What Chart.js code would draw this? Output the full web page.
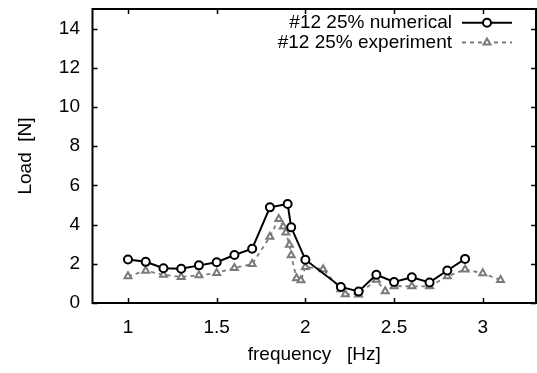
<!DOCTYPE html>
<html>
<head>
<meta charset="utf-8">
<script src="https://cdn.jsdelivr.net/npm/chart.js@4"></script>
<style>
  html, body { margin: 0; padding: 0; background: #fff; }
  #c { display: block; }
</style>
</head>
<body>
<canvas id="c" width="537" height="373"></canvas>
<script>
// data
const seriesNames = ['#12 25% numerical', '#12 25% experiment'];

const numFreq = [1.0, 1.1, 1.2, 1.3, 1.4, 1.5, 1.6, 1.7, 1.8, 1.9, 1.92, 2.0, 2.2, 2.3, 2.4, 2.5, 2.6, 2.7, 2.8, 2.9];
const numLoad = [2.22, 2.1, 1.77, 1.75, 1.92, 2.08, 2.45, 2.77, 4.88, 5.05, 3.86, 2.21, 0.82, 0.59, 1.44, 1.07, 1.31, 1.05, 1.66, 2.25];

const expFreq = [1.0, 1.1, 1.2, 1.3, 1.4, 1.5, 1.6, 1.7, 1.8, 1.85, 1.875, 1.89, 1.91, 1.92, 1.95, 1.975, 2.0, 2.1,
                 2.2, 2.225, 2.3, 2.4, 2.45, 2.5, 2.6, 2.7, 2.8, 2.9, 3.0, 3.1];
const expLoad = [1.36, 1.65, 1.44, 1.33, 1.41, 1.53, 1.79, 1.99, 3.38, 4.28, 3.9, 3.6, 2.97, 2.43, 1.26, 1.16, 1.84, 1.72,
                 0.7, 0.45, 0.44, 1.18, 0.6, 0.86, 0.85, 0.85, 1.36, 1.71, 1.52, 1.17];

const xTicks = [1, 1.5, 2, 2.5, 3];
const xTickLabels = ['1', '1.5', '2', '2.5', '3'];
const yTicks = [0, 2, 4, 6, 8, 10, 12, 14];

const font = { family: '"Liberation Sans", Arial, Helvetica, sans-serif', size: 19 };
const grey = '#7a7a7a';

function pts(xs, ys) {
  return xs.map((x, i) => ({ x: x, y: ys[i] }));
}

// gnuplot style box with inward ticks on all four sides, plus the key
const framePlugin = {
  id: 'frame',
  afterDatasetsDraw(chart) {
    const { ctx, chartArea: a, scales } = chart;
    const sx = scales.x, sy = scales.y;
    ctx.save();
    ctx.strokeStyle = '#000';
    ctx.lineWidth = 2;
    ctx.strokeRect(a.left, a.top, a.right - a.left, a.bottom - a.top);

    ctx.lineWidth = 1.5;
    ctx.beginPath();
    sx.ticks.forEach(t => {
      const px = Math.round(sx.getPixelForValue(t.value)) + 0.5;
      ctx.moveTo(px, a.bottom); ctx.lineTo(px, a.bottom - 5);
      ctx.moveTo(px, a.top); ctx.lineTo(px, a.top + 5);
    });
    sy.ticks.forEach(t => {
      const py = Math.round(sy.getPixelForValue(t.value)) + 0.5;
      ctx.moveTo(a.left, py); ctx.lineTo(a.left + 5, py);
      ctx.moveTo(a.right, py); ctx.lineTo(a.right - 5, py);
    });
    ctx.stroke();

    // key: text right aligned, sample to its right
    const textRight = 452, sampleL = 462, sampleR = 512, rowY = [22.7, 42.5];
    chart.data.datasets.forEach((ds, i) => {
      const y = rowY[i];
      ctx.font = font.size + 'px ' + font.family;
      ctx.fillStyle = '#000';
      ctx.textAlign = 'right';
      ctx.textBaseline = 'middle';
      ctx.fillText(ds.label, textRight, y);

      ctx.strokeStyle = ds.borderColor;
      ctx.lineWidth = ds.borderWidth;
      ctx.setLineDash(ds.borderDash || []);
      ctx.beginPath();
      ctx.moveTo(sampleL, y); ctx.lineTo(sampleR, y);
      ctx.stroke();
      ctx.setLineDash([]);

      const mx = (sampleL + sampleR) / 2;
      ctx.fillStyle = ds.pointBackgroundColor;
      ctx.strokeStyle = ds.pointBorderColor;
      ctx.lineWidth = ds.pointBorderWidth;
      Chart.helpers.drawPoint(ctx, {
        pointStyle: ds.pointStyle, radius: ds.pointRadius,
        borderWidth: ds.pointBorderWidth, rotation: 0
      }, mx, y);
    });
    ctx.restore();
  }
};

new Chart(document.getElementById('c'), {
  type: 'scatter',
  data: {
    datasets: [
      {
        label: seriesNames[0],
        data: pts(numFreq, numLoad),
        showLine: true,
        borderColor: '#000',
        borderWidth: 2,
        pointStyle: 'circle',
        pointRadius: 4,
        pointBorderWidth: 2,
        pointBorderColor: '#000',
        pointBackgroundColor: '#fff',
        order: 1
      },
      {
        label: seriesNames[1],
        data: pts(expFreq, expLoad),
        showLine: true,
        borderColor: grey,
        borderWidth: 1.8,
        borderDash: [4, 4],
        pointStyle: 'triangle',
        pointRadius: 4,
        pointBorderWidth: 2,
        pointBorderColor: grey,
        pointBackgroundColor: '#fff',
        order: 2
      }
    ]
  },
  options: {
    responsive: false,
    animation: false,
    devicePixelRatio: 1,
    layout: { autoPadding: false, padding: { top: 9, right: 1, left: 0, bottom: 0 } },
    plugins: {
      legend: { display: false },
      tooltip: { enabled: false }
    },
    scales: {
      x: {
        type: 'linear',
        min: 0.8,
        max: 3.3,
        afterBuildTicks: s => { s.ticks = xTicks.map(v => ({ value: v })); },
        afterFit: s => { s.height = 70; s.paddingLeft = 0; s.paddingRight = 0; },
        grid: { display: false, drawTicks: false },
        border: { display: false },
        ticks: {
          color: '#000', font: font, padding: 13, maxRotation: 0,
          callback: (v, i) => xTickLabels[i]
        },
        title: { display: true, text: 'frequency   [Hz]', color: '#000', font: font, padding: { top: 0, bottom: 7 } }
      },
      y: {
        type: 'linear',
        min: 0,
        max: 15,
        afterBuildTicks: s => { s.ticks = yTicks.map(v => ({ value: v })); },
        afterFit: s => { s.width = 92.5; s.paddingTop = 0; s.paddingBottom = 0; },
        grid: { display: false, drawTicks: false },
        border: { display: false },
        ticks: { color: '#000', font: font, padding: 12.5 },
        title: { display: true, text: 'Load  [N]', color: '#000', font: font, padding: { top: 14, bottom: 0 } }
      }
    }
  },
  plugins: [framePlugin]
});
</script>
</body>
</html>
